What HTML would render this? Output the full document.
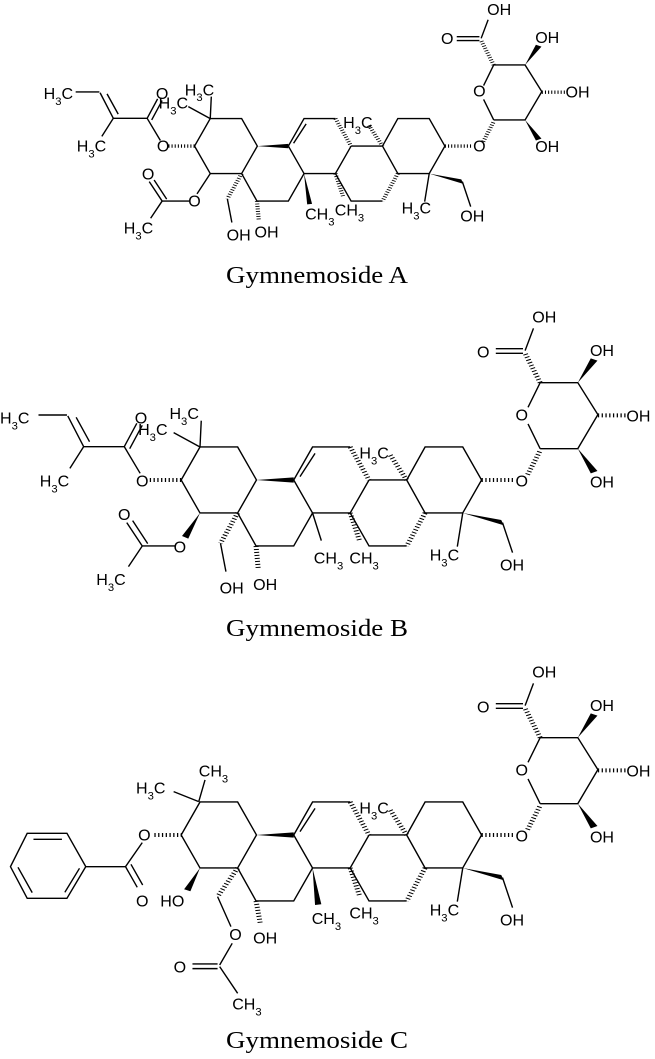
<!DOCTYPE html>
<html><head><meta charset="utf-8">
<style>
html,body{margin:0;padding:0;background:#fff;}
svg{display:block;}
.b{stroke:#000;fill:none;stroke-width:1.4;vector-effect:non-scaling-stroke;}
.h{stroke:#000;fill:none;stroke-width:12;stroke-dasharray:3 6;}
.w{fill:#000;stroke:none;}
text{font-family:"Liberation Sans",Arial,sans-serif;fill:#000;}
.t{font-family:"Liberation Serif","Times New Roman",serif;font-size:24px;}
</style></head><body>
<svg width="655" height="1059" viewBox="0 0 655 1059" xmlns="http://www.w3.org/2000/svg" xmlns:xlink="http://www.w3.org/1999/xlink">
<defs>
<g id="sk">
 <path class="b" d="M433 540L478 441L568 441L613 540L568 639L478 639Z"/>
 <path class="b" d="M568 639L612 738L702 738L747 639L702 540"/>
 <polygon class="w" points="613,540 702,532 702,548"/>
 <path class="b" d="M702 540L747 441L837 441M882 540L837 639L747 639M717 530L753 460"/>
 <line class="h" x1="837" y1="441" x2="882" y2="540"/>
 <path class="b" d="M882 540L972 540L1016 639M972 738L882 738L837 639"/>
 <line class="h" x1="1016" y1="639" x2="972" y2="738"/>
 <path class="b" d="M972 540L1016 441L1106 441L1151 540L1106 639L1016 639"/>
 <line class="h" x1="972" y1="540" x2="931" y2="462"/>
 <line class="h" x1="837" y1="639" x2="860" y2="725"/>
 <path class="b" d="M1106 639L1093 740M1201 668L1225 758"/>
 <polygon class="w" points="1106,639 1198,660 1204,676"/>
 <line class="h" x1="1151" y1="540" x2="1228" y2="540"/>
 <line class="h" x1="1261" y1="524" x2="1291" y2="452"/>
 <path class="b" d="M1291 446L1262 372M1262 322L1291 248L1381 248L1429 344L1381 446L1291 446"/>
 <line class="h" x1="1429" y1="346" x2="1495" y2="346"/>
 <line class="h" x1="1291" y1="248" x2="1255" y2="160"/>
 <path class="b" d="M1250 146L1185 146M1250 160L1185 160M1255 152L1275 85"/>
 <polygon class="w" points="1381,248 1412,175 1428,182"/>
 <polygon class="w" points="1381,446 1412,520 1428,513"/>
 <text transform="translate(835 790) scale(.8 1)">CH<tspan font-size="70%" baseline-shift="sub">3</tspan></text>
 <text transform="translate(859 475) scale(.8 1)">H<tspan font-size="70%" baseline-shift="sub">3</tspan>C</text>
 <text transform="translate(1027 782) scale(.8 1)">H<tspan font-size="70%" baseline-shift="sub">3</tspan>C</text>
 <text transform="translate(1195 812) scale(.8 1)">OH</text>
 <text transform="translate(1232 560) scale(.8 1)">O</text>
 <text transform="translate(1232 362) scale(.8 1)">O</text>
 <text transform="translate(1140 172) scale(.8 1)">O</text>
 <text transform="translate(1272 68) scale(.8 1)">OH</text>
 <text transform="translate(1410 168) scale(.8 1)">OH</text>
 <text transform="translate(1497 365) scale(.8 1)">OH</text>
 <text transform="translate(1410 562) scale(.8 1)">OH</text>
</g>
<g id="abl">
 <path class="b" d="M478 441L481 362M478 441L415 398"/>
 <text transform="translate(405 357) scale(.8 1)">H<tspan font-size="70%" baseline-shift="sub">3</tspan>C</text>
 <text transform="translate(330 405) scale(.8 1)">H<tspan font-size="70%" baseline-shift="sub">3</tspan>C</text>
 <line class="h" x1="433" y1="540" x2="358" y2="540"/>
 <text transform="translate(325 560) scale(.8 1)">O</text>
 <path class="b" d="M335 520L297 440M297 440L327 370M310 446L340 376M297 440L200 440M200 440L162 348M214 425L182 352M160 345L92 345M200 440L167 505"/>
 <text transform="translate(322 370) scale(.8 1)">O</text>
 <text transform="translate(0 370) scale(.8 1)">H<tspan font-size="70%" baseline-shift="sub">3</tspan>C</text>
 <text transform="translate(95 560) scale(.8 1)">H<tspan font-size="70%" baseline-shift="sub">3</tspan>C</text>
 <path class="b" d="M418 738L340 738M340 738L303 668M353 731L317 662M340 738L307 800"/>
 <text transform="translate(282 660) scale(.8 1)">O</text>
 <text transform="translate(230 855) scale(.8 1)">H<tspan font-size="70%" baseline-shift="sub">3</tspan>C</text>
 <text transform="translate(415 758) scale(.8 1)">O</text>
 <line class="h" x1="568" y1="639" x2="527" y2="730"/>
 <path class="b" d="M527 730L540 815"/>
 <text transform="translate(525 880) scale(.8 1)">OH</text>
 <line class="h" x1="612" y1="738" x2="617" y2="805"/>
 <text transform="translate(605 870) scale(.8 1)">OH</text>
</g>
</defs>

<!-- Molecule A -->
<g transform="scale(.4184 .3333) translate(104.2 -11.7) scale(.8333)" font-size="57.6">
 <use xlink:href="#sk"/>
 <use xlink:href="#abl"/>
 <path class="b" d="M478 639L440 712"/>
 <polygon class="w" points="747,639 756,750 770,748"/>
 <text transform="translate(750 805) scale(.8 1)">CH<tspan font-size="70%" baseline-shift="sub">3</tspan></text>
</g>
<text class="t" x="317" y="283" text-anchor="middle" textLength="182" lengthAdjust="spacingAndGlyphs">Gymnemoside A</text>

<!-- Molecule B -->
<g transform="translate(0 300) scale(.4184 .3333)" font-size="48">
 <use xlink:href="#sk"/>
 <use xlink:href="#abl"/>
 <polygon class="w" points="478,639 435,708 450,716"/>
 <path class="b" d="M747 639L768 722"/>
 <text transform="translate(750 790) scale(.8 1)">CH<tspan font-size="70%" baseline-shift="sub">3</tspan></text>
</g>
<text class="t" x="317" y="636" text-anchor="middle" textLength="182" lengthAdjust="spacingAndGlyphs">Gymnemoside B</text>

<!-- Molecule C -->
<g transform="translate(0 650) scale(.4184 .3333)" font-size="48">
 <g transform="translate(0 15)"><use xlink:href="#sk"/></g>
 <path class="b" d="M475 455L490 390M475 455L415 425"/>
 <text transform="translate(475 380) scale(.8 1)">CH<tspan font-size="70%" baseline-shift="sub">3</tspan></text>
 <text transform="translate(325 430) scale(.8 1)">H<tspan font-size="70%" baseline-shift="sub">3</tspan>C</text>
 <line class="h" x1="435" y1="555" x2="365" y2="555"/>
 <text transform="translate(330 572) scale(.8 1)">O</text>
 <path class="b" d="M340 578L300 650M300 650L328 712M313 643L341 705M300 650L205 650M205 650L160 745L65 745L25 650L65 550L160 550Z M80 568L148 568M43 652L77 728M190 655L155 727"/>
 <text transform="translate(325 770) scale(.8 1)">O</text>
 <polygon class="w" points="478,654 440,718 455,724"/>
 <text transform="translate(383 770) scale(.8 1)">HO</text>
 <line class="h" x1="568" y1="654" x2="520" y2="740"/>
 <path class="b" d="M520 740L552 830M555 880L525 945M520 942L460 942M520 956L460 956M525 950L568 1030"/>
 <text transform="translate(548 870) scale(.8 1)">O</text>
 <text transform="translate(415 968) scale(.8 1)">O</text>
 <text transform="translate(555 1078) scale(.8 1)">CH<tspan font-size="70%" baseline-shift="sub">3</tspan></text>
 <line class="h" x1="612" y1="753" x2="622" y2="820"/>
 <text transform="translate(605 880) scale(.8 1)">OH</text>
 <polygon class="w" points="747,654 753,765 768,763"/>
 <text transform="translate(745 822) scale(.8 1)">CH<tspan font-size="70%" baseline-shift="sub">3</tspan></text>
</g>
<text class="t" x="317" y="1048" text-anchor="middle" textLength="182" lengthAdjust="spacingAndGlyphs">Gymnemoside C</text>
</svg>
</body></html>
